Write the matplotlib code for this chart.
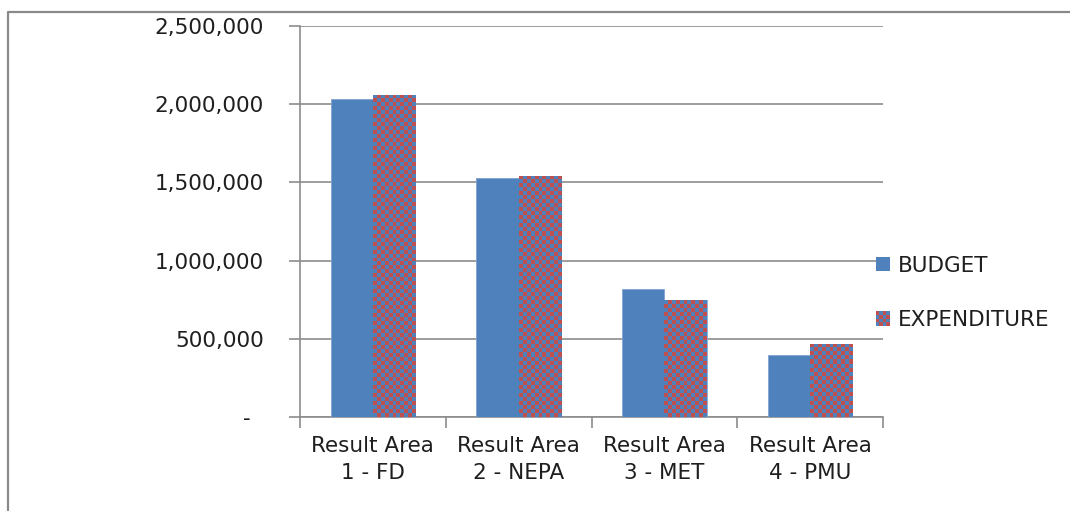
import matplotlib
matplotlib.use("Agg")
import matplotlib.pyplot as plt
import numpy as np
from matplotlib.colors import ListedColormap
from matplotlib.legend_handler import HandlerBase
from matplotlib.patches import Rectangle, Patch
from matplotlib.lines import Line2D
from matplotlib.ticker import FuncFormatter, MultipleLocator

categories = ["Result Area\n1 - FD", "Result Area\n2 - NEPA",
              "Result Area\n3 - MET", "Result Area\n4 - PMU"]
budget = [2033000, 1528000, 818000, 396000]
expenditure = [2059000, 1541000, 748000, 467000]
series_names = ["BUDGET", "EXPENDITURE"]

BLUE = "#4F81BD"
RED = "#C0504D"
GRID = "#8C8C8C"
TEXT = "#1F1F1F"

plt.rcParams["font.family"] = "DejaVu Sans"

fig = plt.figure(figsize=(10.70, 5.11), dpi=100)
W, H = 1070, 511
ax = fig.add_axes([300 / W, 1 - 417 / H, (883 - 300) / W, (417 - 26) / H])

x = np.arange(len(categories)) + 0.5
bw = 0.29
b1 = ax.bar(x - bw / 2, budget, bw, color=BLUE, edgecolor="#7FA3D0", linewidth=0.6, zorder=3)
b2 = ax.bar(x + bw / 2, expenditure, bw, color=BLUE, edgecolor="#8FB0D8", linewidth=0.6, zorder=3)

ax.set_xlim(0, len(categories))
ax.set_ylim(0, 2500000)

# checkerboard fill for expenditure bars
cmap = ListedColormap([BLUE, RED])
cell = 4.0
fig.canvas.draw()
for rect in b2:
    x0, y0 = rect.get_x(), rect.get_y()
    w, h = rect.get_width(), rect.get_height()
    p0 = ax.transData.transform((x0, y0))
    p1 = ax.transData.transform((x0 + w, y0 + h))
    nx = max(1, int(round((p1[0] - p0[0]) / cell)))
    ny = max(1, int(round((p1[1] - p0[1]) / cell)))
    grid = (np.add.outer(np.arange(ny), np.arange(nx)) % 2).astype(float)
    im = ax.imshow(grid, cmap=cmap, extent=(x0, x0 + w, y0, y0 + h),
                   interpolation="nearest", aspect="auto", origin="lower",
                   zorder=4, vmin=0, vmax=1)
    im.set_clip_path(rect)
ax.set_xlim(0, len(categories))
ax.set_ylim(0, 2500000)
ax.set_aspect("auto")

# axes styling
for s in ["top", "right"]:
    ax.spines[s].set_visible(False)
for s in ["left", "bottom"]:
    ax.spines[s].set_color(GRID)
    ax.spines[s].set_linewidth(1.2)

ax.yaxis.set_major_locator(MultipleLocator(500000))
ax.yaxis.set_major_formatter(FuncFormatter(lambda v, p: "-  " if v == 0 else f"{int(v):,}"))
ax.grid(axis="y", color=GRID, linewidth=1.2, zorder=0)
ax.tick_params(axis="y", length=8, width=1.2, color=GRID, pad=18,
               labelsize=15.5, labelcolor=TEXT)

ax.set_xticks(np.arange(len(categories) + 1), minor=True)
ax.set_xticks(x)
ax.set_xticklabels(categories, linespacing=1.4)
ax.tick_params(axis="x", which="major", length=0, pad=14, labelsize=15.5, labelcolor=TEXT)
ax.tick_params(axis="x", which="minor", length=8, width=1.2, color=GRID)
ax.set_axisbelow(True)


class CheckerHandler(HandlerBase):
    def create_artists(self, legend, orig_handle, xdescent, ydescent,
                       width, height, fontsize, trans):
        n = 4
        side = height
        x0 = -xdescent
        y0 = -ydescent
        cw = side / n
        arts = []
        for i in range(n):
            for j in range(n):
                c = RED if (i + j) % 2 else BLUE
                r = Rectangle((x0 + i * cw, y0 + j * cw), cw, cw,
                              facecolor=c, edgecolor="none", transform=trans)
                arts.append(r)
        return arts


class SquareHandler(HandlerBase):
    def create_artists(self, legend, orig_handle, xdescent, ydescent,
                       width, height, fontsize, trans):
        r = Rectangle((-xdescent, -ydescent), height, height,
                      facecolor=BLUE, edgecolor="none", transform=trans)
        return [r]


h_budget = Patch(facecolor=BLUE)
h_exp = Patch(facecolor=RED)
leg = fig.legend([h_budget, h_exp], series_names,
                 handler_map={h_budget: SquareHandler(), h_exp: CheckerHandler()},
                 loc="center left", bbox_to_anchor=(867 / W, 1 - 293 / H),
                 frameon=False, fontsize=15.5, handlelength=0.65, handleheight=0.65,
                 handletextpad=0.4, labelspacing=1.6, borderaxespad=0)
for t in leg.get_texts():
    t.set_color(TEXT)

# outer chart frame
fig.add_artist(Line2D([8 / W, 8 / W, 1.0], [0, 1 - 12 / H, 1 - 12 / H],
                      transform=fig.transFigure, color="#8A8A8A", linewidth=1.6))

fig.savefig("out.png", dpi=100)
